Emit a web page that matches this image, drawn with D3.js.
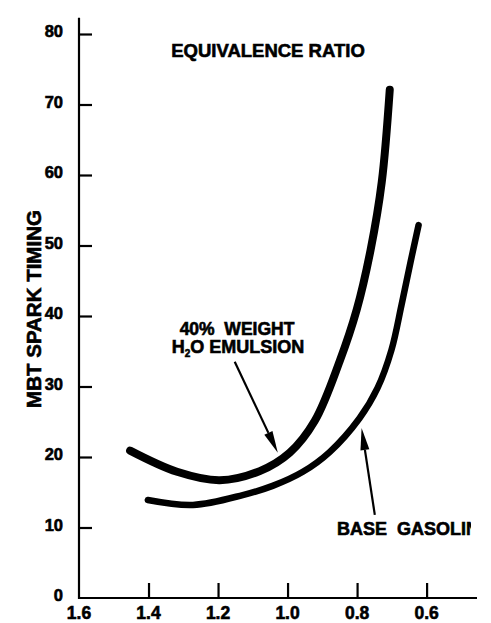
<!DOCTYPE html>
<html>
<head>
<meta charset="utf-8">
<script src="https://cdn.jsdelivr.net/npm/d3@7"></script>
<style>
  html, body { margin: 0; padding: 0; background: #ffffff; }
  svg { display: block; }
  text { font-family: "Liberation Sans", Arial, Helvetica, sans-serif; font-weight: bold; fill: #000;
         stroke: #000; stroke-width: 0.6px; paint-order: stroke; }
</style>
</head>
<body>
<svg id="chart" width="491" height="623"></svg>
<script>
// ---- data ----
const xTicks = [1.6, 1.4, 1.2, 1.0, 0.8, 0.6];
const yTicks = [0, 10, 20, 30, 40, 50, 60, 70, 80];

// 40% weight H2O emulsion curve: equivalence ratio / MBT spark timing
const emulsionPhi    = [1.453, 1.318, 1.195, 1.080, 0.994, 0.922, 0.850, 0.801, 0.761, 0.729, 0.706];
const emulsionTiming = [20.9, 17.9, 16.7, 18.0, 20.6, 25.1, 33.6, 40.9, 49.4, 59.0, 72.1];

// Base gasoline curve
const basePhi    = [1.402, 1.272, 1.129, 1.043, 0.956, 0.879, 0.793, 0.741, 0.701, 0.672, 0.646, 0.623];
const baseTiming = [13.9, 13.2, 14.6, 15.9, 17.9, 20.7, 25.5, 29.8, 35.2, 41.6, 47.7, 52.9];

const titleText = "EQUIVALENCE RATIO";
const yLabel = "MBT SPARK TIMING";

// ---- scales ----
const svg = d3.select("#chart");
const x = d3.scaleLinear().domain([1.6, 0.455]).range([79, 477]);
const y = d3.scaleLinear().domain([0, 80]).range([598, 34]);

// ---- axes ----
const g = svg.append("g");
g.append("line")
  .attr("x1", x(1.6)).attr("x2", x(1.6))
  .attr("y1", y(0) + 1).attr("y2", y(82.3))
  .attr("stroke", "#000").attr("stroke-width", 2.2);
g.append("line")
  .attr("x1", x(1.6) - 1).attr("x2", x(0.455))
  .attr("y1", y(0)).attr("y2", y(0))
  .attr("stroke", "#000").attr("stroke-width", 2.2);

const yAxis = d3.axisRight(y).tickValues(yTicks.filter(d => d !== 0)).tickSize(13).tickFormat("");
const yg = g.append("g").attr("transform", `translate(${x(1.6)},0)`).call(yAxis);
yg.select(".domain").remove();
yg.selectAll(".tick line").attr("stroke", "#000").attr("stroke-width", 2.2);

g.selectAll(".ylab").data(yTicks).join("text")
  .attr("class", "ylab")
  .attr("x", 63).attr("y", d => y(d) + 3)
  .attr("text-anchor", "end")
  .attr("font-size", 16.5)
  .text(d => d);

const xAxis = d3.axisTop(x).tickValues(xTicks.filter(d => d !== 1.6)).tickSize(15).tickFormat("");
const xg = g.append("g").attr("transform", `translate(0,${y(0)})`).call(xAxis);
xg.select(".domain").remove();
xg.selectAll(".tick line").attr("stroke", "#000").attr("stroke-width", 2.2);

g.selectAll(".xlab").data(xTicks).join("text")
  .attr("class", "xlab")
  .attr("x", d => x(d)).attr("y", 619)
  .attr("text-anchor", "middle")
  .attr("font-size", 17.5)
  .text(d => d.toFixed(1));

g.append("text")
  .attr("x", 268).attr("y", 57)
  .attr("text-anchor", "middle")
  .attr("font-size", 18.5)
  .text(titleText);

g.append("text")
  .attr("transform", "translate(41,309) rotate(-90)")
  .attr("text-anchor", "middle")
  .attr("font-size", 20.5)
  .text(yLabel);

// ---- curves ----
const line = d3.line().x(d => x(d[0])).y(d => y(d[1])).curve(d3.curveCatmullRom.alpha(0.5));
const emulsion = emulsionPhi.map((p, i) => [p, emulsionTiming[i]]);
const base = basePhi.map((p, i) => [p, baseTiming[i]]);

g.append("path").datum(emulsion)
  .attr("d", line).attr("fill", "none").attr("stroke", "#000")
  .attr("stroke-width", 8).attr("stroke-linecap", "round").attr("stroke-linejoin", "round");
g.append("path").datum(base)
  .attr("d", line).attr("fill", "none").attr("stroke", "#000")
  .attr("stroke-width", 6.5).attr("stroke-linecap", "round").attr("stroke-linejoin", "round");

// ---- annotations ----
function arrow(fromPhi, fromT, toPhi, toT) {
  const x1 = x(fromPhi), y1 = y(fromT), x2 = x(toPhi), y2 = y(toT);
  const ang = Math.atan2(y2 - y1, x2 - x1);
  const L = 22, W = 4.5;
  const bx = x2 - L * Math.cos(ang), by = y2 - L * Math.sin(ang);
  g.append("line").attr("x1", x1).attr("y1", y1).attr("x2", bx).attr("y2", by)
    .attr("stroke", "#000").attr("stroke-width", 2.2);
  const px = -Math.sin(ang) * W, py = Math.cos(ang) * W;
  g.append("path")
    .attr("d", `M${x2},${y2}L${bx + px},${by + py}L${bx - px},${by - py}Z`)
    .attr("fill", "#000");
}
arrow(1.152, 33.5, 1.028, 20.6);
arrow(0.749, 11.8, 0.787, 24.1);

g.append("text").attr("x", 237).attr("y", 335).attr("text-anchor", "middle")
  .attr("font-size", 17.5).attr("xml:space", "preserve").text("40%  WEIGHT");
const t2 = g.append("text").attr("x", 238).attr("y", 353).attr("text-anchor", "middle")
  .attr("font-size", 18);
t2.append("tspan").text("H");
t2.append("tspan").attr("font-size", 10).attr("dy", 4).text("2");
t2.append("tspan").attr("dy", -4).text("O EMULSION");

svg.append("defs").append("clipPath").attr("id", "clipBase")
  .append("rect").attr("x", 300).attr("y", 500).attr("width", 171).attr("height", 50);
g.append("text").attr("x", 337).attr("y", 535).attr("clip-path", "url(#clipBase)")
  .attr("font-size", 18).attr("xml:space", "preserve").text("BASE  GASOLINE");
</script>
</body>
</html>
